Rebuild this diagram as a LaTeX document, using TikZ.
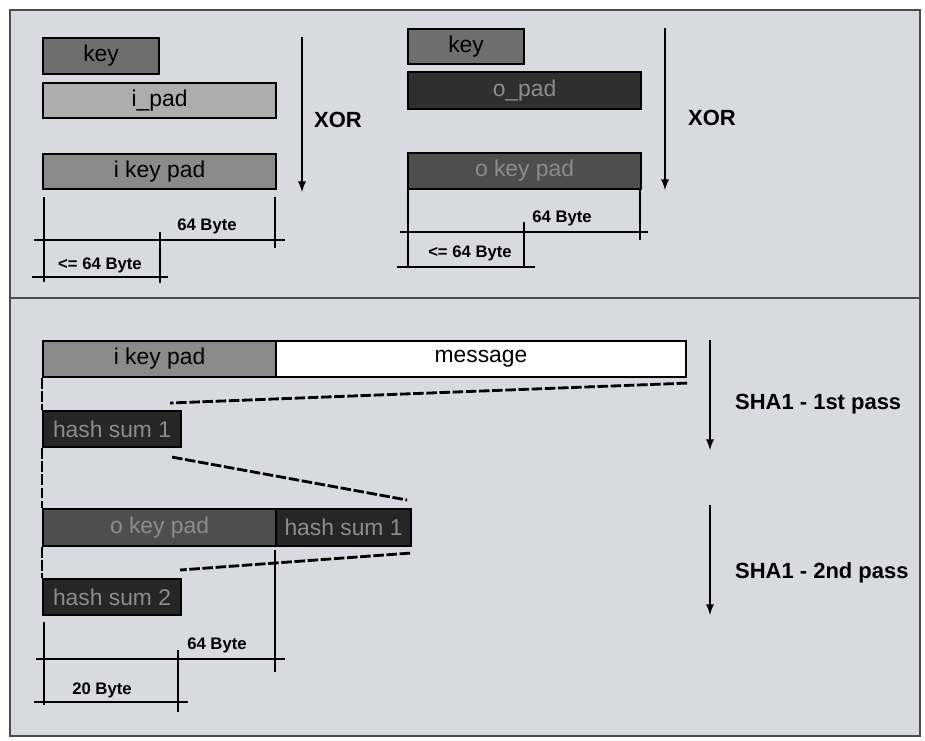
\documentclass[tikz,border=0pt]{standalone}
\usepackage{fontspec}
\setmainfont{Liberation Sans}
\usetikzlibrary{calc}

\definecolor{panel}{HTML}{D9D9E2}
\definecolor{keygray}{HTML}{6E6E6E}
\definecolor{padlight}{HTML}{ADADAD}
\definecolor{padmid}{HTML}{8A8A8A}
\definecolor{padark}{HTML}{2F2F2F}
\definecolor{dimtext}{HTML}{8C8C8C}

\tikzset{
  cell/.style={draw=black, line width=1.2pt, anchor=north west, inner sep=0pt,
    font=\fontsize{13}{15}\selectfont},
  darkcell/.style={cell, fill=padark, text=dimtext},
  dim/.style={line width=1.2pt},
  dimlabel/.style={font=\fontsize{9.5}{11}\selectfont\bfseries},
  flow/.style={->, >=latex, line width=1.1pt},
  passlabel/.style={font=\fontsize{12.5}{14}\selectfont\bfseries, anchor=west},
  pass/.style={dashed, line width=1.6pt, dash pattern=on 6pt off 1.5pt}
}

\begin{document}
\begin{tikzpicture}[x=0.02cm, y=-0.02cm]
\useasboundingbox[fill=white] (0,0) rectangle (925,740);
\draw[fill=panel, draw=black!70, line width=0.8pt] (10,10) rectangle (920,736);
\draw[black!70, line width=0.8pt] (10,298) -- (920,298);

% inner pad
\node[cell, fill=keygray, minimum width=2.32cm, minimum height=0.72cm] (keyA) at (42,37) {key};
\node[cell, fill=padlight, minimum width=4.66cm, minimum height=0.70cm] (ipadA) at (42,82) {i\_pad};
\node[cell, fill=padmid, minimum width=4.66cm, minimum height=0.70cm] (ikpA) at (42,153) {i key pad};
\draw[flow] (302,37) -- (302,192);
\node[font=\fontsize{12.5}{14}\selectfont\bfseries] (xorA) at (338,120) {XOR};
\draw[dim] (44,197) -- (44,282);
\draw[dim] (275,197) -- (275,248);
\draw[dim] (34,240) -- (285,240);
\draw[dim] (160,232) -- (160,283);
\draw[dim] (32,277) -- (168,277);
\node[dimlabel] (lenA) at (207,226) {64 Byte};
\node[dimlabel] (keylenA) at (100,265) {<= 64 Byte};

% outer pad
\node[cell, fill=keygray, minimum width=2.32cm, minimum height=0.70cm] (keyB) at (407,28) {key};
\node[darkcell, minimum width=4.66cm, minimum height=0.74cm] (opadB) at (407,71) {o\_pad};
\node[darkcell, fill=padark!85!white, minimum width=4.66cm, minimum height=0.72cm] (okpB) at (407,152) {o key pad};
\draw[flow] (665,28) -- (665,190);
\node[font=\fontsize{12.5}{14}\selectfont\bfseries] (xorB) at (712,118) {XOR};
\draw[dim] (408,188) -- (408,268);
\draw[dim] (640,188) -- (640,240);
\draw[dim] (400,232) -- (648,232);
\draw[dim] (524,222) -- (524,268);
\draw[dim] (397,267) -- (535,267);
\node[dimlabel] (lenB) at (562,218) {64 Byte};
\node[dimlabel] (keylenB) at (470,253) {<= 64 Byte};

% two hash passes
\node[cell, fill=padmid, minimum width=4.66cm, minimum height=0.72cm] (ikp) at (42,340) {i key pad};
\node[cell, fill=white, minimum width=8.2cm, minimum height=0.72cm] (msg) at (275,340) {message};
\node[darkcell, fill=black!85, minimum width=2.76cm, minimum height=0.72cm] (hsA) at (42,410) {hash sum 1};
\node[darkcell, fill=padark!85!white, minimum width=4.66cm, minimum height=0.74cm] (okp) at (42,508) {o key pad};
\node[darkcell, fill=black!85, minimum width=2.70cm, minimum height=0.74cm] (hsB) at (275,508) {hash sum 1};
\node[darkcell, fill=black!85, minimum width=2.76cm, minimum height=0.72cm] (hsC) at (42,578) {hash sum 2};

\draw[pass] ($(msg.south east)+(0,5)$) -- ($(hsA.north east)+(-12,-7)$);
\draw[pass] ($(hsA.south east)+(-10,9)$) -- ($(hsB.north east)+(-5,-8)$);
\draw[pass] ($(hsB.south east)+(-2,6)$) -- ($(hsC.north east)+(-2,-8)$);
\draw[pass] (ikp.south west) -- (hsA.north west);
\draw[pass] (hsA.south west) -- (okp.north west);
\draw[pass] (okp.south west) -- (hsC.north west);

\draw[flow] (710,340) -- (710,450);
\node[passlabel] (shaA) at (729,404) {SHA1 - 1st pass};
\draw[flow] (710,505) -- (710,615);
\node[passlabel] (shaB) at (729,573) {SHA1 - 2nd pass};

\draw[dim] (44,622) -- (44,705);
\draw[dim] (275,550) -- (275,672);
\draw[dim] (36,659) -- (285,659);
\draw[dim] (178,650) -- (178,712);
\draw[dim] (34,702) -- (188,702);
\node[dimlabel] (lenC) at (217,645) {64 Byte};
\node[dimlabel] (hashlen) at (102,690) {20 Byte};
\end{tikzpicture}
\end{document}
